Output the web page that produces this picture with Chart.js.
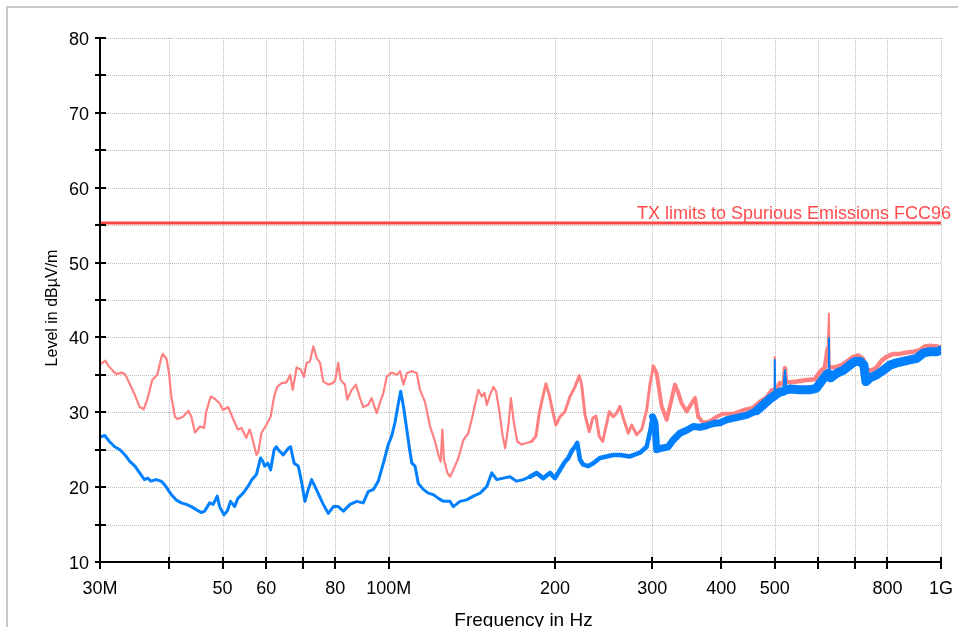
<!DOCTYPE html>
<html>
<head>
<meta charset="utf-8">
<script src="https://cdn.jsdelivr.net/npm/chart.js@4.4.0/dist/chart.umd.min.js"></script>
<style>
  html, body { margin: 0; padding: 0; background: #fff; overflow: hidden; }
  #frame { position: absolute; left: 6px; top: 6px; width: 1000px; height: 700px;
           border-left: 2px solid #c8c8c8; border-top: 2px solid #c8c8c8; }
  #chart { position: absolute; left: 0; top: 0; }
</style>
</head>
<body>
<div id="frame"></div>
<canvas id="chart" width="958" height="627"></canvas>
<script>
// axis ranges and ticks
const xMin = 30, xMax = 1000;
const yMin = 10, yMax = 80;
const xTickValues = [30, 40, 50, 60, 70, 80, 100, 200, 300, 400, 500, 600, 700, 800, 1000];
const xTickLabels = ['30M', '', '50', '60', '', '80', '100M', '200', '300', '400', '500', '', '', '800', '1G'];
const yTickValues = [10, 15, 20, 25, 30, 35, 40, 45, 50, 55, 60, 65, 70, 75, 80];

// limit line
const limitFreq = [30, 1000];
const limitLevel = [55.3, 55.3];
const limitText = 'TX limits to Spurious Emissions FCC96';

// red (peak) trace, MHz / dBµV/m
const redTraceFreq = [
  30.0, 30.7, 31.0, 31.7, 32.1, 32.8, 33.3, 34.0, 34.7, 35.4, 36.0, 36.6, 37.3, 38.1, 38.7, 39.0, 39.6, 40.0,
  40.4, 41.0, 41.5, 42.4, 43.4, 43.9, 44.6, 45.5, 46.3, 46.7, 47.6, 48.4, 49.4, 50.1, 51.2, 52.2, 53.3, 54.1,
  55.2, 56.0, 56.5, 57.6, 58.0, 58.8, 60.0, 61.1, 62.0, 62.8, 64.0, 65.3, 66.3, 67.0, 68.1, 69.3, 70.2, 71.0,
  72.0, 73.0, 74.1, 75.1, 76.1, 77.7, 79.2, 80.0, 81.0, 81.8, 83.3, 84.1, 85.7, 87.2, 88.7, 89.9, 91.8, 93.1,
  95.1, 96.4, 97.8, 99.2, 101.2, 103.4, 104.8, 106.3, 107.8, 110.1, 112.4, 113.9, 116.3, 118.8, 121.3, 123.0,
  124.2, 125.0, 125.9, 127.7, 129.1, 130.9, 133.7, 136.5, 139.3, 141.3, 143.3, 145.3, 147.4, 149.0, 150.5,
  152.5, 154.7, 156.4, 158.5, 160.8, 162.5, 164.6, 166.4, 168.5, 170.9, 174.0, 177.7, 181.4, 184.7, 187.3,
  190.4, 192.6, 195.3, 198.1, 200.8, 204.2, 208.5, 212.9, 217.4, 221.3, 223.5, 226.6, 230.7, 234.0, 237.2,
  240.5, 244.0, 247.4, 250.8, 255.0, 258.6, 262.2, 265.9, 271.5, 275.3, 281.1, 287.1, 293.1, 297.1, 301.3,
  305.6, 312.0, 318.6, 323.0, 329.8, 334.4, 339.1, 346.3, 353.6, 358.5, 363.5, 371.1, 381.6, 392.4, 403.3,
  420.5, 438.4, 457.1, 470.0, 483.4, 493.6, 499.0, 500.0, 501.0, 503.8, 510.8, 519.0, 521.7, 524.0, 532.6,
  547.7, 571.1, 591.2, 603.6, 616.3, 623.3, 626.7, 628.5, 642.5, 660.8, 679.1, 693.4, 708.1, 723.0, 735.2,
  748.8, 764.5, 780.6, 797.1, 819.3, 842.6, 866.4, 890.6, 915.7, 935.0, 954.7, 981.8, 1000
];
const redTraceLevel = [
  36.4, 36.9, 36.3, 35.5, 35.1, 35.3, 35.1, 33.7, 32.3, 30.7, 30.4, 31.9, 34.3, 35.0, 37.2, 37.8, 37.1, 35.2,
  32.1, 29.4, 29.1, 29.4, 30.2, 29.4, 27.3, 28.1, 27.9, 30.0, 32.1, 31.8, 31.2, 30.3, 30.7, 29.2, 27.7, 27.9,
  26.6, 27.7, 26.8, 24.3, 24.6, 27.2, 28.3, 29.4, 32.1, 33.4, 33.9, 34.0, 35.0, 33.0, 36.0, 35.7, 34.7, 36.6,
  36.8, 38.8, 37.2, 36.6, 34.1, 33.7, 33.9, 34.3, 36.6, 34.3, 33.7, 31.7, 33.0, 33.7, 31.9, 30.7, 31.0, 31.9,
  29.9, 31.3, 32.6, 34.8, 35.3, 35.0, 35.5, 33.7, 35.2, 35.5, 35.2, 33.0, 31.4, 28.1, 26.1, 24.3,
  23.4, 27.7, 23.7, 21.9, 21.4, 22.3, 23.9, 26.3, 27.2, 29.0, 31.0, 33.0, 32.1, 32.6, 31.0,
  32.3, 33.4, 32.8, 30.3, 26.8, 25.2, 28.1, 31.9, 28.6, 26.1, 25.7, 25.9, 26.1, 26.8, 29.9,
  32.3, 33.8, 32.3, 30.1, 28.3, 29.4, 30.1, 32.1, 33.4, 34.9, 33.7, 29.7, 27.4, 29.2, 29.5,
  26.8, 26.1, 28.1, 30.1, 29.4, 29.9, 30.8, 29.2, 27.2, 28.3, 27.0, 27.7, 30.3, 33.7, 36.1,
  35.2, 30.8, 29.0, 30.8, 33.7, 32.6, 31.2, 30.1, 31.2, 31.9, 29.4, 28.6, 28.8, 29.4, 29.8,
  29.8, 30.3, 30.6, 31.4, 32.0, 32.9, 33.0, 37.4, 33.1, 33.1, 33.9, 33.7, 35.9, 34.1, 34.0,
  34.1, 34.3, 34.4, 35.4, 36.0, 38.5, 43.2, 36.0, 36.0, 36.3, 36.9, 37.4, 37.6, 37.1, 35.6,
  35.6, 36.0, 36.9, 37.4, 37.8, 37.8, 38.0, 38.1, 38.3, 38.8, 38.9, 38.8, 38.7
];

// blue (average) trace, MHz / dBµV/m
const blueTraceFreq = [
  30.0, 30.6, 31.2, 31.9, 32.6, 33.3, 34.0, 34.7, 35.4, 36.1, 36.6, 37.1, 37.9, 38.7, 39.3, 39.8, 40.4, 41.2,
  42.1, 43.0, 43.9, 44.8, 45.8, 46.4, 47.4, 48.1, 48.9, 49.4, 50.3, 51.0, 51.7, 52.6, 53.3, 54.5, 55.6, 56.5,
  57.6, 58.6, 59.2, 59.6, 60.4, 61.1, 62.0, 62.6, 63.1, 64.4, 65.8, 66.4, 67.4, 68.6, 69.6, 70.5, 71.5, 72.5,
  73.5, 74.9, 76.1, 77.7, 79.4, 81.0, 82.8, 85.1, 87.5, 89.9, 91.8, 93.8, 95.7, 97.8, 99.8, 101.2, 102.6,
  104.1, 105.1, 106.3, 107.8, 108.9, 110.1, 111.6, 113.1, 115.5, 117.9, 120.4, 123.0, 125.6, 127.3, 129.1,
  130.9, 134.6, 138.4, 142.3, 146.4, 150.5, 153.6, 156.9, 161.2, 165.8, 170.4, 175.2, 180.2, 185.3, 190.4,
  195.8, 200.0, 204.2, 208.5, 211.4, 214.4, 217.4, 219.5, 221.9, 225.0, 229.7, 234.6, 241.2, 248.1, 255.0,
  262.2, 273.4, 285.0, 293.1, 297.9, 300.4, 303.4, 305.6, 312.0, 320.7, 327.4, 336.7, 346.3, 356.0, 366.1,
  376.4, 386.9, 397.9, 409.1, 426.5, 444.7, 463.7, 476.6, 490.1, 496.9, 499.2, 500.0, 500.8, 502.5, 510.8,
  518.0, 521.7, 525.3, 532.6, 554.3, 577.9, 594.3, 606.8, 619.6, 625.5, 626.7, 628.0, 631.1, 647.0, 665.1,
  684.0, 698.4, 713.1, 725.1, 731.2, 743.5, 764.5, 785.9, 808.1, 831.0, 854.3, 878.4, 903.3, 928.5, 954.7,
  981.8, 1000
];
const blueTraceLevel = [
  26.7, 26.9, 26.1, 25.4, 25.0, 24.3, 23.4, 22.8, 21.9, 21.0, 21.2, 20.8, 21.0, 20.8, 20.3, 19.7, 19.0, 18.3,
  17.9, 17.7, 17.4, 17.0, 16.6, 16.8, 17.9, 17.7, 18.8, 17.4, 16.3, 16.8, 18.1, 17.4, 18.5, 19.2, 20.1, 21.0,
  21.7, 23.9, 23.4, 22.8, 23.2, 22.3, 25.0, 25.4, 25.0, 24.3, 25.2, 25.4, 23.2, 22.8, 20.5, 18.1, 19.7, 21.0,
  20.1, 18.8, 17.7, 16.5, 17.4, 17.4, 16.8, 17.7, 18.1, 17.9, 19.4, 19.7, 20.8, 23.2, 25.7, 26.8, 28.6,
  31.2, 32.8, 30.8, 27.7, 25.4, 23.2, 22.8, 20.5, 19.7, 19.2, 19.0, 18.5, 18.1, 18.1, 18.1,
  17.4, 18.1, 18.3, 18.8, 19.2, 20.1, 21.9, 21.0, 21.2, 21.4, 20.8, 21.0, 21.4, 21.9, 21.2,
  21.9, 21.2, 22.3, 23.4, 23.9, 24.8, 25.4, 25.9, 23.7, 23.0, 22.8, 23.2, 23.9, 24.1, 24.3,
  24.3, 24.1, 24.6, 25.4, 27.7, 29.4, 28.6, 25.0, 25.2, 25.4, 26.3, 27.2, 27.6, 28.1, 28.0,
  28.2, 28.5, 28.6, 29.0, 29.3, 29.6, 30.2, 31.0, 31.8, 32.1, 32.2, 37.0, 32.3, 32.3, 32.7,
  32.8, 35.6, 33.0, 33.1, 33.0, 33.0, 33.2, 34.1, 35.0, 35.2, 39.9, 34.8, 34.6, 35.2, 35.6,
  36.3, 36.8, 36.8, 36.3, 34.1, 34.6, 35.0, 35.6, 36.3, 36.6, 36.8, 37.0, 37.2, 37.9, 38.1,
  38.1, 38.3
];

const FONT = "'Liberation Sans', Arial, sans-serif";

function toPoints(freqs, levels) {
  return freqs.map((f, i) => ({ x: f, y: levels[i] }));
}

// trace gets visibly thicker (noise band) towards higher frequencies
function traceWidth(widths) {
  return ctx => {
    const f = ctx.p0.parsed.x;
    const dy = Math.abs(ctx.p1.parsed.y - ctx.p0.parsed.y);
    const ratio = ctx.p1.parsed.x / ctx.p0.parsed.x;
    if (f >= 450 && dy > 2.5 && ratio < 1.01) return 2; // narrow spikes
    if (f < 180) return widths[0];
    if (f < 300) return widths[1];
    if (f < 450) return widths[2];
    return widths[3];
  };
}

const emcAxes = {
  id: 'emcAxes',
  beforeDatasetsDraw(chart) {
    const { ctx, scales: { x, y } } = chart;
    const left = x.getPixelForValue(xMin), right = x.getPixelForValue(xMax);
    const top = y.getPixelForValue(yMax), bottom = y.getPixelForValue(yMin);
    ctx.save();
    ctx.strokeStyle = '#bdbdbd';
    ctx.lineWidth = 1;
    ctx.setLineDash([1, 1]);
    ctx.beginPath();
    xTickValues.forEach(v => {
      if (v === xMin) return;
      const px = Math.round(x.getPixelForValue(v)) + 0.5;
      ctx.moveTo(px, top);
      ctx.lineTo(px, bottom);
    });
    yTickValues.forEach(v => {
      if (v === yMin) return;
      const py = Math.round(y.getPixelForValue(v)) + 0.5;
      ctx.moveTo(left, py);
      ctx.lineTo(right, py);
    });
    ctx.stroke();
    ctx.restore();
  },
  afterDatasetsDraw(chart) {
    const { ctx, scales: { x, y } } = chart;
    const left = x.getPixelForValue(xMin), right = x.getPixelForValue(xMax);
    const top = y.getPixelForValue(yMax), bottom = y.getPixelForValue(yMin);
    ctx.save();
    ctx.strokeStyle = '#000';
    ctx.lineWidth = 2;
    ctx.beginPath();
    ctx.moveTo(left, top);
    ctx.lineTo(left, bottom);
    ctx.moveTo(left, bottom);
    ctx.lineTo(right, bottom);
    // y ticks cross the axis
    yTickValues.forEach(v => {
      const py = Math.round(y.getPixelForValue(v));
      ctx.moveTo(left - 5, py);
      ctx.lineTo(left + 6, py);
    });
    xTickValues.forEach(v => {
      const px = Math.round(x.getPixelForValue(v));
      ctx.moveTo(px, bottom - 5);
      ctx.lineTo(px, bottom + 7);
    });
    ctx.stroke();

    ctx.fillStyle = '#000';
    ctx.font = '18px ' + FONT;
    ctx.textBaseline = 'alphabetic';
    ctx.textAlign = 'right';
    yTickValues.forEach(v => {
      if (v % 10 !== 0) return;
      ctx.fillText(String(v), left - 11, y.getPixelForValue(v) + 7);
    });
    ctx.textAlign = 'center';
    xTickValues.forEach((v, i) => {
      if (!xTickLabels[i]) return;
      ctx.fillText(xTickLabels[i], x.getPixelForValue(v), bottom + 32);
    });

    // axis titles
    ctx.font = '19px ' + FONT;
    ctx.fillText('Frequency in Hz', (left + right) / 2 + 3, 626);
    ctx.save();
    ctx.translate(57, 308);
    ctx.rotate(-Math.PI / 2);
    ctx.font = '16px ' + FONT;
    ctx.fillText('Level in dBµV/m', 0, 0);
    ctx.restore();

    // limit line caption
    ctx.fillStyle = '#ff4b4b';
    ctx.font = '18px ' + FONT;
    ctx.textAlign = 'right';
    ctx.fillText(limitText, 951, y.getPixelForValue(limitLevel[1]) - 4);
    ctx.restore();
  }
};

new Chart(document.getElementById('chart'), {
  type: 'line',
  data: {
    datasets: [
      {
        label: limitText,
        data: toPoints(limitFreq, limitLevel),
        borderColor: '#ff4646',
        borderWidth: 3,
        pointRadius: 0,
        order: 0
      },
      {
        label: 'Average',
        data: toPoints(blueTraceFreq, blueTraceLevel),
        borderColor: '#0080ff',
        borderWidth: 3,
        borderJoinStyle: 'round',
        borderCapStyle: 'round',
        pointRadius: 0,
        order: 1,
        segment: { borderWidth: traceWidth([3, 4.5, 7, 9]) }
      },
      {
        label: 'Peak',
        data: toPoints(redTraceFreq, redTraceLevel),
        borderColor: '#ff8080',
        borderWidth: 2.5,
        borderJoinStyle: 'round',
        borderCapStyle: 'round',
        pointRadius: 0,
        order: 2,
        segment: { borderWidth: traceWidth([2.2, 3, 4, 4.5]) }
      }
    ]
  },
  options: {
    responsive: false,
    animation: false,
    events: [],
    layout: { padding: { left: 100, right: 17, top: 38, bottom: 65 } },
    plugins: { legend: { display: false }, tooltip: { enabled: false } },
    scales: {
      x: { type: 'logarithmic', min: xMin, max: xMax, display: false },
      y: { type: 'linear', min: yMin, max: yMax, display: false }
    }
  },
  plugins: [emcAxes]
});
</script>
</body>
</html>
